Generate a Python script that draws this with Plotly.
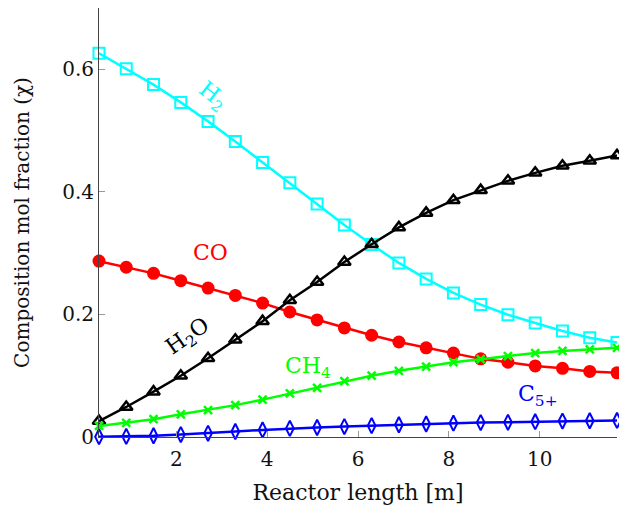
import plotly.graph_objects as go

# Reactor positions [m]
length_m = [round(0.3 + 0.6 * i, 2) for i in range(20)]

# Mole fractions along the reactor
h2 = [0.626, 0.601, 0.575, 0.546, 0.515, 0.482, 0.448, 0.415, 0.380, 0.346,
      0.314, 0.284, 0.258, 0.235, 0.216, 0.1995, 0.186, 0.173, 0.162, 0.154]
co = [0.287, 0.277, 0.267, 0.255, 0.243, 0.231, 0.2185, 0.204, 0.191, 0.178,
      0.166, 0.155, 0.1455, 0.137, 0.1275, 0.122, 0.116, 0.112, 0.107, 0.1047]
h2o = [0.026, 0.049, 0.074, 0.100, 0.1285, 0.1586, 0.189, 0.223, 0.253, 0.2855,
       0.3145, 0.342, 0.3657, 0.3864, 0.4028, 0.418, 0.431, 0.4425, 0.4507, 0.4595]
ch4 = [0.018, 0.023, 0.029, 0.037, 0.044, 0.052, 0.061, 0.071, 0.080, 0.091,
       0.100, 0.108, 0.115, 0.122, 0.127, 0.132, 0.137, 0.1405, 0.143, 0.1455]
c5p = [0.0005, 0.001, 0.002, 0.004, 0.006, 0.009, 0.0115, 0.014, 0.0155, 0.017,
       0.0185, 0.020, 0.0212, 0.0225, 0.0235, 0.024, 0.025, 0.026, 0.0265, 0.027]

x_ticks = [2, 4, 6, 8, 10]
y_ticks = [0, 0.2, 0.4, 0.6]
y_tick_text = ["0", "0.2", "0.4", "0.6"]

FONT = "DejaVu Serif"

series = [
    (h2, "#00FFFF", dict(symbol="square-open", size=11, line=dict(width=2, color="#00FFFF"))),
    (co, "#FF0000", dict(symbol="circle", size=13, color="#FF0000")),
    (h2o, "#000000", dict(symbol="triangle-up-open", size=11, line=dict(width=2.5, color="#000000"))),
    (ch4, "#00FF00", dict(symbol="x-thin-open", size=8, line=dict(width=2.5, color="#00FF00"))),
    (c5p, "#0000FF", dict(symbol="diamond-tall-open", size=11, line=dict(width=2, color="#0000FF"))),
]

fig = go.Figure()
for values, color, marker in series:
    if "color" not in marker:
        marker["color"] = color
    fig.add_trace(go.Scatter(
        x=length_m, y=values, mode="lines+markers",
        line=dict(color=color, width=2.5),
        marker=marker, cliponaxis=False, showlegend=False,
    ))

# Species labels placed next to their curves
labels = [
    ("H<sub>2</sub>", 2.79, 0.556, "#00FFFF", 38),
    ("CO", 2.75, 0.301, "#FF0000", 0),
    ("H<sub>2</sub>O", 2.26, 0.162, "#000000", -35),
    ("CH<sub>4</sub>", 4.90, 0.113, "#00FF00", 0),
    ("C<sub>5+</sub>", 9.96, 0.067, "#0000FF", 0),
]
for text, x, y, color, angle in labels:
    fig.add_annotation(x=x, y=y, text=text, showarrow=False, textangle=angle,
                       font=dict(family=FONT, size=22, color=color))

axis_common = dict(
    showline=True, linecolor="#444444", linewidth=1,
    ticks="inside", ticklen=6, tickcolor="#999999", tickwidth=1,
    showgrid=False, zeroline=False,
    tickfont=dict(family=FONT, size=20, color="#111111"),
)

fig.update_xaxes(range=[0.3, 11.7], tickvals=x_ticks, ticktext=[str(t) for t in x_ticks],
                 ticklabelstandoff=4,
                 title_text="Reactor length [m]", title_standoff=14,
                 title_font=dict(family=FONT, size=22, color="#111111"), **axis_common)
fig.update_yaxes(range=[0, 0.7], tickvals=y_ticks, ticktext=y_tick_text,
                 title_text="Composition mol fraction (χ)", title_standoff=27,
                 title_font=dict(family=FONT, size=20, color="#111111"), **axis_common)

fig.update_layout(
    width=619, height=513,
    margin=dict(l=99, r=2, t=8, b=76),
    plot_bgcolor="white", paper_bgcolor="white",
)

fig.write_html("out.html")
